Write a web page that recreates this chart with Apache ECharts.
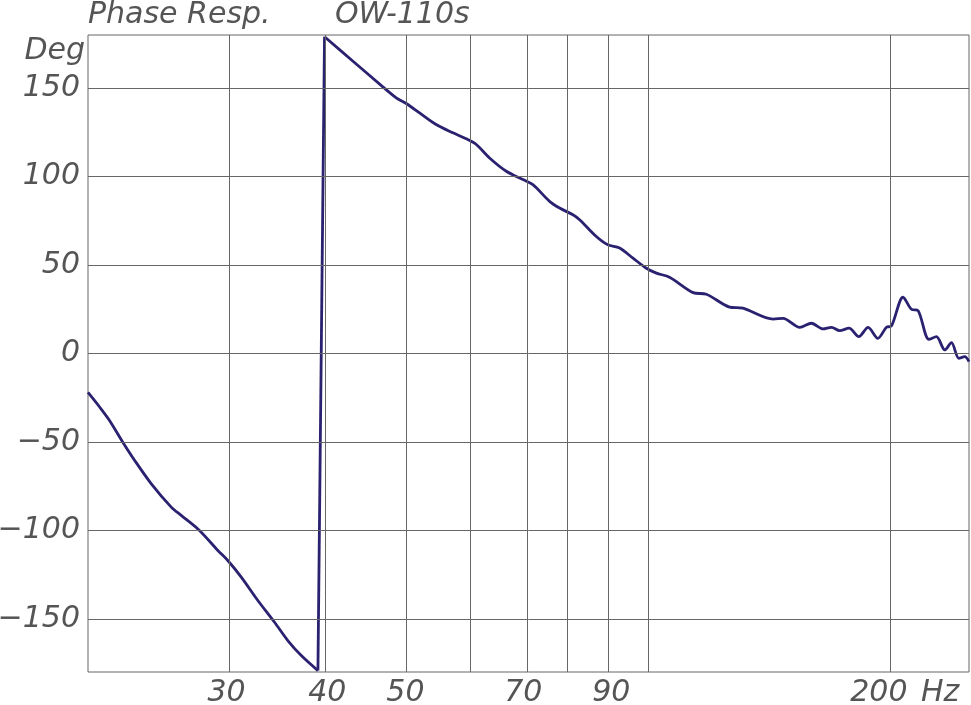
<!DOCTYPE html>
<html><head><meta charset="utf-8">
<script src="https://cdn.jsdelivr.net/npm/echarts@6/dist/echarts.min.js"></script>
<style>html,body{margin:0;padding:0;background:#fff;}#c{width:971px;height:705px;}</style>
</head><body><div id="c"></div>
<script>
// Lower branch (before phase wrap)
const lowFreq  = [20.2, 20.87, 21.47, 22.3, 23.07, 24.19, 25.62, 26.36, 27.77, 29.27, 30.11, 31.29, 32.81, 34.41, 35.74, 37.14, 38.95];
const lowPhase = [-22, -30.1, -37.7, -50, -60.3, -73.5, -86.8, -91.5, -100, -111.3, -117, -126.4, -139.6, -151.9, -162.2, -170.7, -179.2];
// Upper branch (after phase wrap)
const upFreq  = [39.69, 43.05, 46.88, 48.71, 50.12, 52.06, 54.59, 57.26, 59.49, 61.22, 63.58, 66.7, 69.94, 71.96, 75.48, 77.66, 80.67, 82.23, 86.25, 89.15, 92.18, 95.75, 99.49, 102.4, 106.3, 113.7, 118.1, 126.2, 131.1, 142.9, 147.0, 154.2, 159.4, 164.8, 168.8, 172.8, 177.5, 182.5, 187.4, 192.7, 197.5, 200.4, 207.1, 212.1, 216.2, 223.0, 227.8, 233.3, 237.8, 242.8, 247.0, 250];
const upPhase = [179, 165.2, 150.7, 144.5, 141.3, 136, 129.4, 124.7, 121.3, 118.1, 110.5, 103, 98.3, 95.4, 86, 82.2, 78.4, 75.6, 66.1, 61.4, 59.6, 53.9, 48.2, 45.4, 43.1, 34.4, 33.5, 26.2, 25.6, 19.4, 19.9, 14.8, 17.1, 13.9, 14.8, 12.9, 14.3, 9.5, 14.8, 8.6, 14.8, 15.6, 31.8, 25, 24.2, 8, 9.5, 2, 6.1, -2.7, -1.8, -4.6];

const xGridFreqs  = [30, 40, 50, 60, 70, 80, 90, 100, 200];
const xLabelFreqs = [30, 40, 50, 70, 90, 200];
const yTicks = [-150, -100, -50, 0, 50, 100, 150];
const xMin = 20.2, xMax = 250, yMin = -180, yMax = 180;

const titleLeft = 'Phase Resp.';
const titleRight = 'OW-110s';
const yUnit = 'Deg';
const xUnit = 'Hz';

const lg = Math.log10;
const pts = (F, V) => F.map((f, i) => [lg(f), V[i]]);
const FONT = "'DejaVu Sans ExtraLight', 'DejaVu Sans'";
const TXT = '#555';
const LINE = '#2a2270';
const fontBits = {fontFamily: FONT, fontStyle: 'italic', fontWeight: 'normal', fontSize: 30};
const labelStyle = Object.assign({color: TXT}, fontBits);
const lineSeries = {type: 'line', showSymbol: false, z: 3, silent: true, lineStyle: {color: LINE, width: 2.8}};

const chart = echarts.init(document.getElementById('c'), null, {renderer: 'canvas'});
chart.setOption({
  animation: false,
  backgroundColor: '#fff',
  grid: {left: 88, right: 2, top: 35, bottom: 33, show: true, borderColor: '#666', borderWidth: 1, containLabel: false, outerBoundsMode: 'none'},
  xAxis: {
    type: 'value', min: lg(xMin), max: lg(xMax),
    axisLine: {show: false}, axisTick: {show: false}, splitLine: {show: false},
    axisLabel: Object.assign({}, labelStyle, {margin: 6, customValues: xLabelFreqs.map(lg),
      rich: {s: Object.assign({color: TXT, padding: [0, 24, 0, 0]}, fontBits)},
      formatter: v => {
        const f = Math.round(Math.pow(10, v));
        return f >= 200 ? '{s|' + f + '}' : String(f);
      }})
  },
  yAxis: {
    type: 'value', min: yMin, max: yMax,
    axisLine: {show: false}, axisTick: {show: false}, splitLine: {show: false},
    axisLabel: Object.assign({}, labelStyle, {margin: 8, customValues: yTicks,
      formatter: v => v < 0 ? '\u2212' + Math.abs(v) : String(v)})
  },
  series: [
    {type: 'line', data: [], z: 1, silent: true,
     markLine: {silent: true, symbol: ['none', 'none'], label: {show: false}, animation: false,
       lineStyle: {color: '#666', width: 1, type: 'solid'}, emphasis: {disabled: true},
       data: xGridFreqs.map(f => ({xAxis: lg(f)})).concat(yTicks.map(v => ({yAxis: v})))}},
    Object.assign({}, lineSeries, {data: pts(lowFreq, lowPhase), smooth: 0.3}),
    Object.assign({}, lineSeries, {data: [[lg(lowFreq[lowFreq.length - 1]), lowPhase[lowPhase.length - 1]], [lg(upFreq[0]), upPhase[0]]]}),
    Object.assign({}, lineSeries, {data: pts(upFreq, upPhase), smooth: 0.3})
  ],
  graphic: [
    {type: 'text', x: 88, y: 15, style: Object.assign({text: titleLeft, fill: TXT, align: 'left', verticalAlign: 'middle'}, fontBits)},
    {type: 'text', x: 335, y: 15, style: Object.assign({text: titleRight, fill: TXT, align: 'left', verticalAlign: 'middle'}, fontBits)},
    {type: 'text', x: 85, y: 51, style: Object.assign({text: yUnit, fill: TXT, align: 'right', verticalAlign: 'middle'}, fontBits)},
    {type: 'text', x: 921, y: 678, style: Object.assign({text: xUnit, fill: TXT, align: 'left', verticalAlign: 'top'}, fontBits)}
  ]
});
</script></body></html>
